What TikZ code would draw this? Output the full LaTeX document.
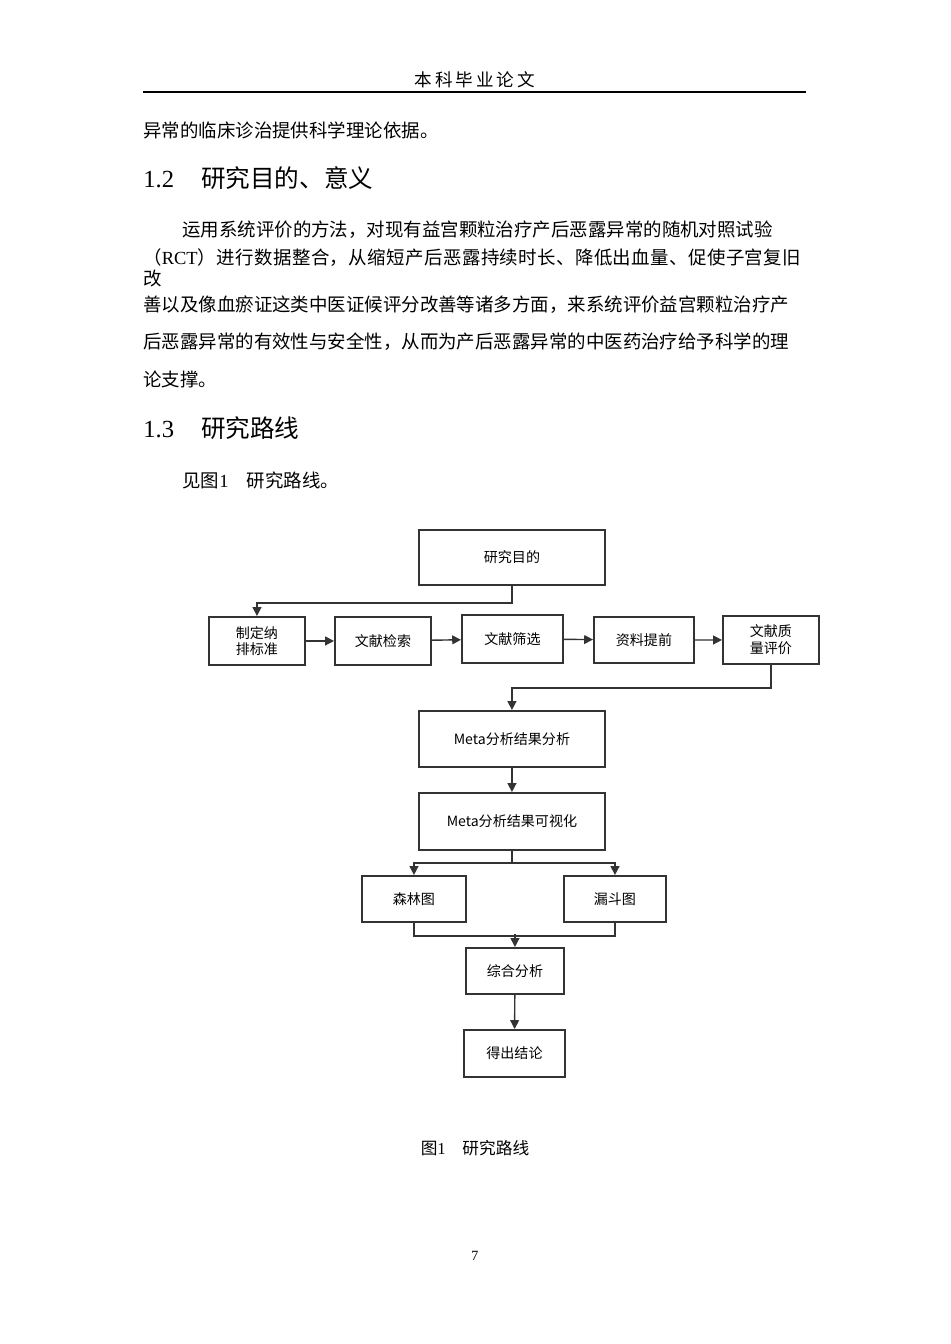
\documentclass[tikz,border=0pt]{standalone}
\usepackage{fontspec}
\setmainfont{Liberation Serif}
\setsansfont{Liberation Sans}
\newfontfamily\cjk{Noto Sans CJK SC}
\usetikzlibrary{arrows.meta}
\XeTeXlinebreaklocale "zh"
\XeTeXlinebreakskip=0pt plus 2pt
\newdimen\pxu \pxu=0.2mm
\tikzset{
  box/.style={draw=black!80, line width=1.1pt, font=\cjk\fontsize{8pt}{9.5pt}\selectfont, align=center, anchor=north west},
  line/.style={draw=black!80, line width=0.8pt},
  arr/.style={line, -{Triangle[length=5pt,width=5pt]}},
  body/.style={anchor=west, inner sep=0pt, font=\cjk\fontsize{10.5pt}{12pt}\selectfont}
}
\begin{document}
\begin{tikzpicture}[x=0.02cm,y=-0.02cm]
    \useasboundingbox (0,0) rectangle (950,1344);
    % header
    \node (head) at (475,80) [font=\cjk\fontsize{10pt}{12pt}\selectfont] {本\,科\,毕\,业\,论\,文};
    \coordinate (rl) at (143,92);
    \coordinate (rr) at (806,92);
    \draw [line width=0.6pt] (rl) -- (rr);
    % text
    \node (t0) at (143,130) [body] {异常的临床诊治提供科学理论依据。};
    \node (h12) at (143,178) [body, font=\fontsize{14pt}{16pt}\selectfont] {1.2\hspace{1.1em}{\cjk 研究目的、意义}};
    \node (p1) at (182,230) [body, text width=624\pxu] {\parfillskip=0pt 运用系统评价的方法，对现有益宫颗粒治疗产后恶露异常的随机对照试验};
    \node (p2) at (143,268) [body, text width=663\pxu] {\parfillskip=0pt （{\rmfamily RCT}）进行数据整合，从缩短产后恶露持续时长、降低出血量、促使子宫复旧改};
    \node (p3) at (143,305) [body, text width=663\pxu] {\parfillskip=0pt 善以及像血瘀证这类中医证候评分改善等诸多方面，来系统评价益宫颗粒治疗产};
    \node (p4) at (143,342) [body, text width=663\pxu] {\parfillskip=0pt 后恶露异常的有效性与安全性，从而为产后恶露异常的中医药治疗给予科学的理};
    \node (p5) at (143,379) [body] {论支撑。};
    \node (h13) at (143,428) [body, font=\fontsize{14pt}{16pt}\selectfont] {1.3\hspace{1.1em}{\cjk 研究路线}};
    \node (see) at (182,480) [body] {见图{\rmfamily 1}\quad 研究路线。};
    % diagram
    \node (goal) at (418,529) [box, minimum width=186\pxu, minimum height=55\pxu] {研究目的};
    \node (b1) at (208,616) [box, minimum width=96\pxu, minimum height=48\pxu] {制定纳\\排标准};
    \node (b2) at (334,616) [box, minimum width=96\pxu, minimum height=48\pxu] {文献检索};
    \node (b3) at (461,614) [box, minimum width=101\pxu, minimum height=48\pxu] {文献筛选};
    \node (b4) at (593,616) [box, minimum width=100\pxu, minimum height=46\pxu] {资料提前};
    \node (b5) at (722,615) [box, minimum width=96\pxu, minimum height=48\pxu] {文献质\\量评价};
    \node (m1) at (418,710) [box, minimum width=186\pxu, minimum height=56\pxu] {Meta分析结果分析};
    \node (m2) at (418,792) [box, minimum width=186\pxu, minimum height=57\pxu] {Meta分析结果可视化};
    \node (sl) at (361,875) [box, minimum width=104\pxu, minimum height=46\pxu] {森林图};
    \node (ld) at (563,875) [box, minimum width=102\pxu, minimum height=46\pxu] {漏斗图};
    \node (zh) at (465,947) [box, minimum width=98\pxu, minimum height=46\pxu] {综合分析};
    \node (jl) at (463,1029) [box, minimum width=101\pxu, minimum height=47\pxu] {得出结论};
    \draw [arr] (goal.south) -- ++(0,17) -| (b1.north);
    \draw [arr] (b1) -- (b2);
    \draw [arr] (b2) -- (b3);
    \draw [arr] (b3) -- (b4);
    \draw [arr] (b4) -- (b5);
    \draw [arr] (b5.south) -- ++(0,23) -| (m1.north);
    \draw [arr] (m1) -- (m2);
    \draw [arr] (m2.south) -- ++(0,12) -| (sl.north);
    \draw [arr] (m2.south) -- ++(0,12) -| (ld.north);
    \draw [line] (sl.south) -- ++(0,13) -| (ld.south);
    \coordinate (mid) at (zh.north |- 934,934);
    \draw [arr] (mid) -- (zh.north);
    \draw [arr] (zh) -- (jl);
    % caption
    \node (cap) at (475,1148) [font=\cjk\fontsize{9.5pt}{11pt}\selectfont] {图{\rmfamily 1}\quad 研究路线};
    \node (pg) at (475,1256) [font=\fontsize{8pt}{9pt}\selectfont] {7};
\end{tikzpicture}
\end{document}
